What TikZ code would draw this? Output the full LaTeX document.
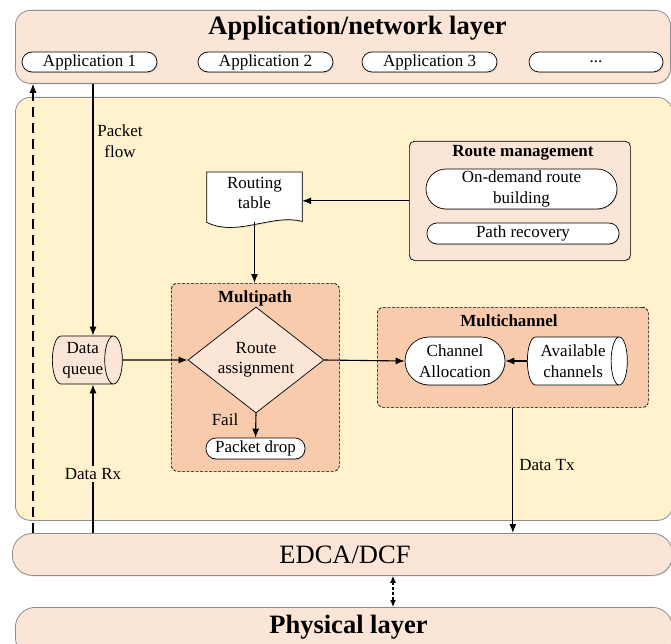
\documentclass[tikz,border=0pt]{standalone}
\usepackage{fontspec}
\setmainfont{Liberation Serif}
\usetikzlibrary{shapes.geometric,arrows.meta,shadows}

\definecolor{peach}{HTML}{FBE5D6}
\definecolor{cream}{HTML}{FFF2CC}
\definecolor{salmon}{HTML}{F8CBAD}
\definecolor{rimgray}{HTML}{8C8C8C}

\newcommand{\bodysize}{\fontsize{17}{20.5}\selectfont}
\newcommand{\layersize}{\fontsize{26.5}{30}\selectfont}

\tikzset{
  softshadow/.style={drop shadow={shadow xshift=0.8pt,shadow yshift=-1pt,opacity=0.25,fill=black!60}},
  layerbox/.style={draw=rimgray, fill=peach, line width=0.8pt, softshadow, inner sep=0pt},
  creambox/.style={draw=rimgray, fill=cream, line width=0.8pt, rounded corners=15pt, inner sep=0pt},
  pill/.style={draw, fill=white, line width=0.7pt, font=\bodysize, inner sep=0pt, align=center, softshadow},
  panel/.style={draw, fill=peach, line width=0.7pt, rounded corners=5pt, inner sep=0pt, softshadow},
  groupbox/.style={draw, fill=salmon, line width=0.7pt, dash pattern=on 3pt off 1.5pt, rounded corners=6pt, inner sep=0pt},
  plaintext/.style={font=\bodysize, inner sep=1pt, align=center},
  heading/.style={font=\bodysize\bfseries, inner sep=0pt, anchor=base},
  flow/.style={-{Latex[length=9pt,width=7pt]}, line width=1.1pt},
  % a horizontal cylinder: minimum height runs along its axis, minimum width across it
  store/.style={cylinder, shape border rotate=0, aspect=0.5, draw, line width=0.7pt,
    font=\bodysize, align=center, inner sep=0pt, minimum height=70, minimum width=48,
    cylinder uses custom fill, anchor=west},
}

\begin{document}
\begin{tikzpicture}[x=1pt,y=-1pt]
\useasboundingbox (0,0) rectangle (671,644);
\clip (0,0) rectangle (671,644);

% ---- application / network layer
\node[layerbox, rounded corners=15pt, anchor=north west, minimum width=655, minimum height=73] (applayer) at (15,10) {};
\node[font=\layersize\bfseries, anchor=base] (apptitle) at (357.5,35) {Application/network layer};
\node[pill, rounded corners=10pt, minimum width=135, minimum height=20] (app1) at (89.5,62) {Application 1};
\node[pill, rounded corners=10pt, minimum width=135, minimum height=20] (app2) at (265.5,62) {Application 2};
\node[pill, rounded corners=10pt, minimum width=135, minimum height=20] (app3) at (429.5,62) {Application 3};
\node[pill, rounded corners=10pt, minimum width=134, minimum height=20] (app4) at (596,62) {...};

% ---- routing / MAC layer
\node[creambox, anchor=north west, minimum width=657, minimum height=423] (mid) at (15,97) {};

% ---- EDCA/DCF and physical layer
\node[layerbox, rounded corners=20pt, anchor=north west, minimum width=660, minimum height=42] (edca) at (12,533) {};
\node[font=\layersize, anchor=base] (edcatext) at (345,563) {EDCA/DCF};
\node[layerbox, rounded corners=20pt, anchor=north west, minimum width=657, minimum height=50] (phy) at (15,607) {};
\node[font=\layersize\bfseries, anchor=base] (phytext) at (348.5,633) {Physical layer};

% ---- route management
\node[panel, anchor=north west, minimum width=221, minimum height=119] (rm) at (409,141) {};
\node[heading] (rmtitle) at (523,157) {Route management};
\node[pill, rounded corners=20pt, minimum width=191, minimum height=40] (odrb) at (521.5,189) {On-demand route\\building};
\node[pill, rounded corners=10pt, minimum width=192, minimum height=21] (prec) at (523,233.5) {Path recovery};

% ---- routing table (document shape)
\node[minimum width=95, minimum height=44, anchor=north, inner sep=0pt] (rt) at (254.5,172) {};
\draw[line width=0.7pt, fill=white, softshadow] (rt.north west) -- (rt.north east)
  -- ([yshift=-5pt]rt.south east)
  .. controls ([xshift=-30pt,yshift=3pt]rt.south east) and ([xshift=30pt,yshift=-21pt]rt.south west)
  .. ([yshift=-6pt]rt.south west) -- cycle;
\node[plaintext] (rtlabel) at (254.5,193) {Routing\\table};

% ---- multipath group
\node[groupbox, anchor=north west, minimum width=168, minimum height=188] (mp) at (171,283) {};
\node[heading] (mptitle) at (255,302) {Multipath};
\node[diamond, draw, fill=peach, line width=0.7pt, aspect=1.28, inner sep=0pt,
      minimum width=136, minimum height=106, font=\bodysize, align=center] (ra) at (256,360) {Route\\assignment};
\node[pill, rounded corners=10pt, minimum width=99, minimum height=21] (pd) at (255.5,448.5) {Packet drop};
\node[plaintext] (fail) at (225,420) {Fail};

% ---- multichannel group
\node[groupbox, anchor=north west, minimum width=271, minimum height=100] (mc) at (377,307) {};
\node[heading] (mctitle) at (509,326) {Multichannel};
\node[pill, rounded corners=24pt, minimum width=100, minimum height=48] (ca) at (455,361) {Channel\\Allocation};
\node[store, minimum height=100, cylinder body fill=white, cylinder end fill=white] (av) at (527,361) {Available\\channels};

% ---- data queue
\node[store, cylinder body fill=peach, cylinder end fill=peach] (dq) at (52,360) {Data\\queue};

% ---- connectors
\coordinate (pfx) at (93,0);
\coordinate (ctlx) at (33,0);
\coordinate (phx) at (393,0);

\draw[flow, dash pattern=on 10pt off 6pt] (edca.north -| ctlx) -- (applayer.south -| ctlx);
\draw[flow] (applayer.south -| pfx) -- (dq.north -| pfx);
\node[plaintext] (pflabel) at (120,141) {Packet\\flow};
\draw[flow] (edca.north -| pfx) -- (dq.south -| pfx);
\node[plaintext, fill=cream, inner sep=2pt] (rxlabel) at (93,474) {Data Rx};

\draw[flow] (rm.west) -- (rm.west -| rt.east);
\draw[flow] ([yshift=-6pt]rt.south) -- (rt.south |- mp.north);
\draw[flow] (dq.east) -- (ra.west);
\draw[flow] (ra.south) -- (pd.north);
\draw[flow] (ra.east) -- (ca.west);
\draw[flow] (av.west) -- (ca.east);

\draw[flow] (mc.south) -- (mc.south |- edca.north);
\node[plaintext] (txlabel) at (547,465) {Data Tx};

\draw[{Latex[length=7pt,width=6pt]}-{Latex[length=7pt,width=6pt]}, line width=1.2pt, dash pattern=on 3pt off 2pt]
  (edca.south -| phx) -- (phy.north -| phx);
\end{tikzpicture}
\end{document}
